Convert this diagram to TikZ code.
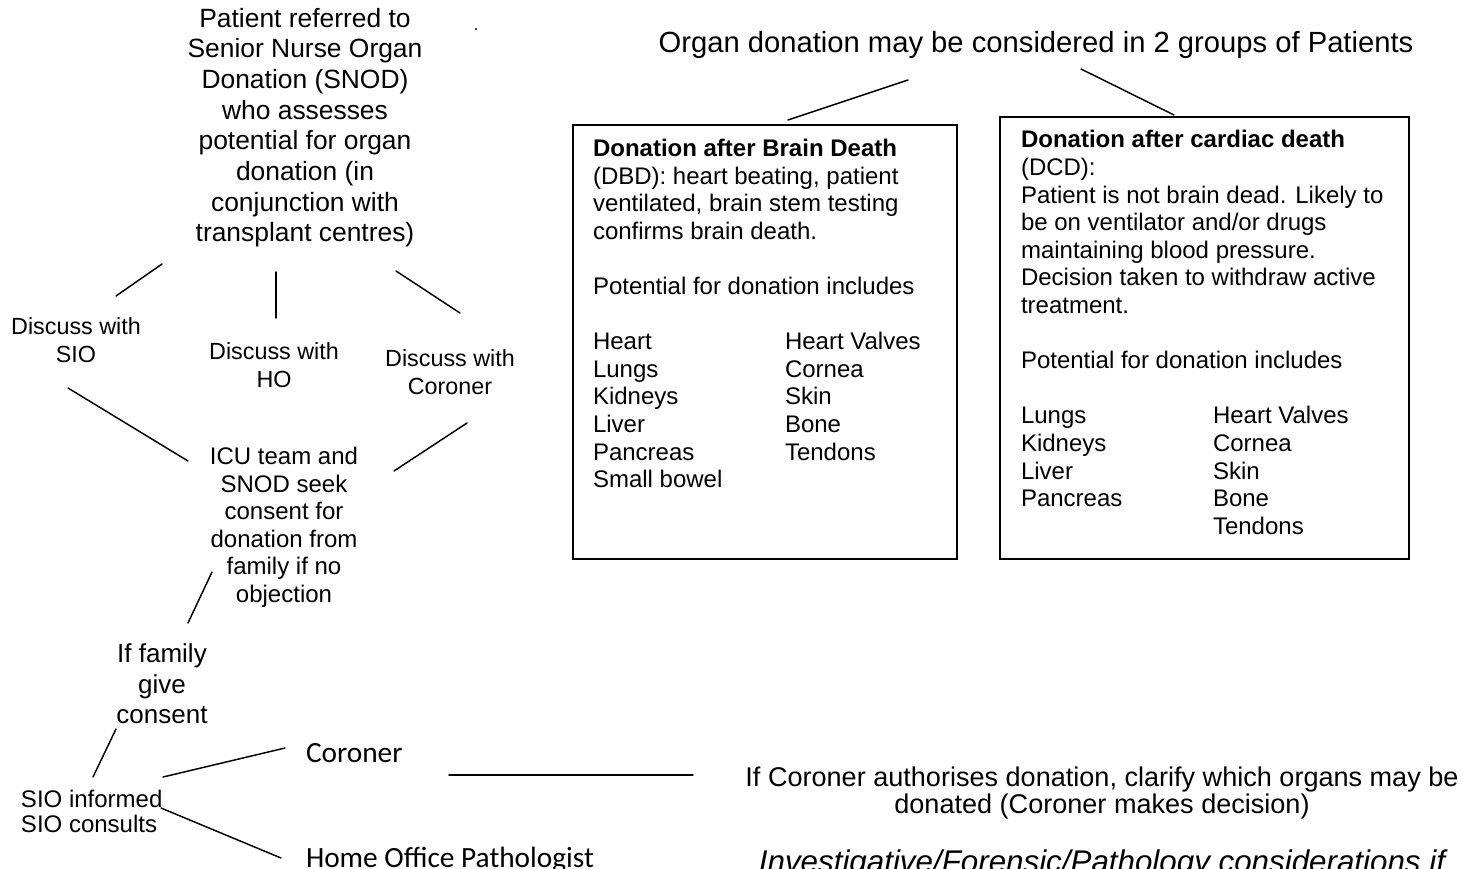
\documentclass[tikz,border=0pt]{standalone}
\usepackage{fontspec}
\setmainfont{Liberation Sans}
\newfontfamily\calibrifont{Carlito}
\newcommand\fs[2]{\fontsize{#1}{#2}\selectfont}
\newcommand\orgrow[2]{\makebox[144pt][l]{#1}#2}
\begin{document}
\begin{tikzpicture}[x=0.75pt,y=-0.75pt,
  conn/.style={line width=1.1pt,line cap=round},
  boxframe/.style={draw,line width=1.4pt,rectangle,inner sep=0pt,anchor=north west},
  txt/.style={inner sep=0pt,outer sep=0pt},
  ctext/.style={txt,align=center,anchor=north},
  ltext/.style={txt,align=left,anchor=north west}]
\clip (0,0) rectangle (1476,868);
\fill[white] (0,0) rectangle (1476,868);

% ---- left-hand flow ----
\node[ctext,font=\fs{19.8}{23}] (snod) at (305,8)
  {Patient referred to\\Senior Nurse Organ\\Donation (SNOD)\\who assesses\\potential for organ\\donation (in\\conjunction with\\transplant centres)};
\node[fill,circle,inner sep=0pt,minimum size=1.6pt] (dot) at (476,29) {};

\node[ctext,font=\fs{17.5}{21}] (sio) at (76,318) {Discuss with\\SIO};
\node[ctext,font=\fs{17.5}{21}] (ho) at (274,343) {Discuss with\\HO};
\node[ctext,font=\fs{17.5}{21}] (cor) at (450,350) {Discuss with\\Coroner};

\node[ctext,font=\fs{18}{20.7}] (icu) at (284,447)
  {ICU team and\\SNOD seek\\consent for\\donation from\\family if no\\objection};
\node[ctext,font=\fs{19.5}{22.9}] (family) at (162,644) {If family\\give\\consent};
\node[ltext,font=\fs{18}{18.75}] (inform) at (21,790) {SIO informed\\SIO consults};

\node[txt,anchor=base west,font=\calibrifont\fs{22}{26}] (coroner) at (306,762) {Coroner};
\node[txt,anchor=base west,font=\calibrifont\fs{22}{26}] (hop) at (306,867) {Home Office Pathologist};

\coordinate (a1) at (162,264); \coordinate (a2) at (116,296);
\coordinate (b1) at (276,272); \coordinate (b2) at (276,318);
\coordinate (c1) at (396,271); \coordinate (c2) at (460,313);
\coordinate (d1) at (68,388);  \coordinate (d2) at (188,461);
\coordinate (e1) at (467,423); \coordinate (e2) at (394,471);
\coordinate (f1) at (212,572); \coordinate (f2) at (188,623);
\coordinate (g1) at (116,729); \coordinate (g2) at (93,777);
\coordinate (h1) at (163,777); \coordinate (h2) at (285,748);
\coordinate (i1) at (161,808); \coordinate (i2) at (281,858);
\coordinate (j1) at (449,775); \coordinate (j2) at (693,775);

\draw[conn] (a1) -- (a2);
\draw[conn] (b1) -- (b2);
\draw[conn] (c1) -- (c2);
\draw[conn] (d1) -- (d2);
\draw[conn] (e1) -- (e2);
\draw[conn] (f1) -- (f2);
\draw[conn] (g1) -- (g2);
\draw[conn] (h1) -- (h2);
\draw[conn] (i1) -- (i2);
\draw[conn] (j1) -- (j2);

% ---- right-hand groups ----
\node[txt,anchor=base,font=\fs{21.9}{26}] (title) at (1036,52)
  {Organ donation may be considered in 2 groups of Patients};

\node[boxframe,minimum width=288pt,minimum height=325.5pt] (dbd) at (572,124) {};
\node[boxframe,minimum width=306.75pt,minimum height=331.5pt] (dcd) at (999,116) {};

\coordinate (k1) at (908,80);  \coordinate (k2) at (788,120);
\coordinate (l1) at (1081,69); \coordinate (l2) at (1174,115);
\draw[conn] (k1) -- (k2);
\draw[conn] (l1) -- (l2);

\node[ltext,font=\fs{18}{20.7}] (dbdtext) at (593,139)
  {\textbf{Donation after Brain Death}\\
   (DBD): heart beating, patient\\
   ventilated, brain stem testing\\
   confirms brain death.\\
   \mbox{}\\
   Potential for donation includes\\
   \mbox{}\\
   \orgrow{Heart}{Heart Valves}\\
   \orgrow{Lungs}{Cornea}\\
   \orgrow{Kidneys}{Skin}\\
   \orgrow{Liver}{Bone}\\
   \orgrow{Pancreas}{Tendons}\\
   Small bowel};

\node[ltext,font=\fs{18}{20.7}] (dcdtext) at (1021,130.5)
  {\textbf{Donation after cardiac death}\\
   (DCD):\\
   Patient is not brain dead. Likely to\\
   be on ventilator and/or drugs\\
   maintaining blood pressure.\\
   Decision taken to withdraw active\\
   treatment.\\
   \mbox{}\\
   Potential for donation includes\\
   \mbox{}\\
   \orgrow{Lungs}{Heart Valves}\\
   \orgrow{Kidneys}{Cornea}\\
   \orgrow{Liver}{Skin}\\
   \orgrow{Pancreas}{Bone}\\
   \orgrow{}{Tendons}};

% ---- coroner outcome ----
\node[ctext,font=\fs{20.3}{20}] (auth) at (1102,767)
  {If Coroner authorises donation, clarify which organs may be\\donated (Coroner makes decision)};
\node[txt,anchor=base,font=\itshape\fs{23.5}{26}] (invest) at (1102,872)
  {Investigative/Forensic/Pathology considerations if};
\end{tikzpicture}
\end{document}
